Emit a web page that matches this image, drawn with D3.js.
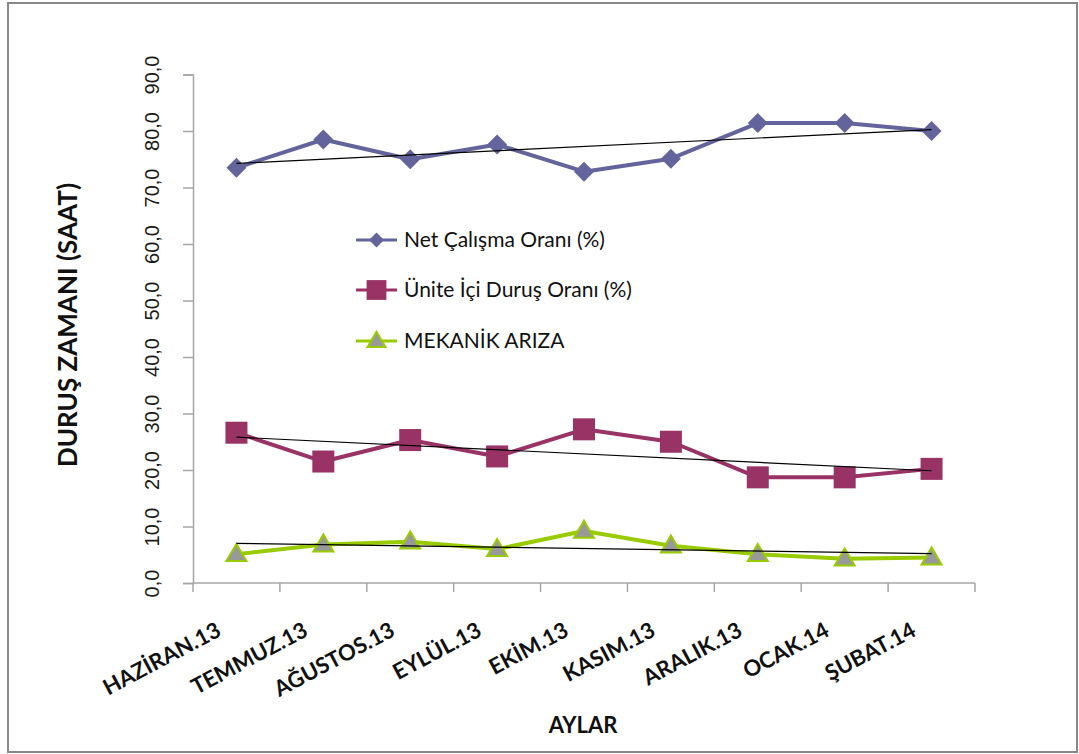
<!DOCTYPE html>
<html><head><meta charset="utf-8">
<script src="https://cdn.jsdelivr.net/npm/d3@7"></script>
<style>body{margin:0;background:#fff}svg{display:block}</style>
</head><body>
<script>
const categories = ["HAZİRAN.13","TEMMUZ.13","AĞUSTOS.13","EYLÜL.13","EKİM.13","KASIM.13","ARALIK.13","OCAK.14","ŞUBAT.14"];
const netCalisma = [73.5,78.5,75.0,77.6,72.8,75.1,81.4,81.4,80.0];
const uniteIci = [26.6,21.5,25.3,22.4,27.2,25.0,18.7,18.7,20.2];
const mekanik = [5.1,6.8,7.3,6.0,9.2,6.6,5.1,4.3,4.5];
const yTicks = [0,10,20,30,40,50,60,70,80,90];
const seriesNames = ["Net Çalışma Oranı (%)","Ünite İçi Duruş Oranı (%)","MEKANİK ARIZA"];

const W=1079,H=754;
const svg=d3.select("body").append("svg").attr("width",W).attr("height",H);
svg.append("rect").attr("x",8).attr("y",3).attr("width",1069).attr("height",749)
  .attr("fill","#fff").attr("stroke","#888").attr("stroke-width",2);

const x0=193,x1=975,yTop=74.5,yBot=583;
const xBand=d3.scaleBand().domain(categories).range([x0,x1]);
const x=d=>xBand(d)+xBand.bandwidth()/2;
const y=d3.scaleLinear().domain([0,90]).range([yBot,yTop]);

// y axis
const yAx=svg.append("g").attr("transform",`translate(${x0},0)`)
  .call(d3.axisLeft(y).tickValues(yTicks).tickSize(10).tickFormat(d=>d3.format(".1f")(d).replace(".",",")));
yAx.select(".domain").attr("stroke","#a6a6a6").attr("stroke-width",1.5);
yAx.selectAll(".tick line").attr("stroke","#a6a6a6").attr("stroke-width",1.5);
yAx.selectAll(".tick text").attr("transform","rotate(-90)").attr("x",0).attr("y",-41).attr("dy","0.35em")
  .attr("text-anchor","middle").style("font-family","'Liberation Sans',Arial,sans-serif").style("font-size","20px").attr("fill","#1a1a1a");

// x axis
const xAx=svg.append("g").attr("transform",`translate(0,${yBot})`);
xAx.append("line").attr("x1",x0).attr("x2",x1).attr("y1",0).attr("y2",0).attr("stroke","#a6a6a6").attr("stroke-width",1.5);
const bounds=categories.map(c=>xBand(c)).concat([x1]);
xAx.selectAll(".xt").data(bounds).join("line").attr("x1",d=>d).attr("x2",d=>d).attr("y1",0).attr("y2",9)
  .attr("stroke","#a6a6a6").attr("stroke-width",1.5);
xAx.selectAll(".xl").data(categories).join("text")
  .attr("transform",d=>`translate(${x(d)-14},${52}) rotate(-28)`)
  .attr("text-anchor","end")
  .style("font-family","Lato,'Open Sans',sans-serif").style("font-weight","bold").style("font-size","22px")
  .attr("fill","#111").text(d=>d);

// axis titles
svg.append("text").attr("transform",`translate(77,${325}) rotate(-90)`).attr("text-anchor","middle")
  .style("font-family","Lato,'Open Sans',sans-serif").style("font-weight","bold").style("font-size","26px")
  .attr("fill","#111").text("DURUŞ ZAMANI (SAAT)");
svg.append("text").attr("x",583).attr("y",733).attr("text-anchor","middle")
  .style("font-family","Lato,'Open Sans',sans-serif").style("font-weight","bold").style("font-size","22px")
  .attr("fill","#111").text("AYLAR");

// trend lines
function trend(vals){
  const n=vals.length, xs=d3.range(n), mx=d3.mean(xs), my=d3.mean(vals);
  const b=d3.sum(xs,i=>(i-mx)*(vals[i]-my))/d3.sum(xs,i=>(i-mx)**2);
  const a=my-b*mx;
  return [a, a+b*(n-1)];
}
const line=d3.line().x((d,i)=>x(categories[i])).y(d=>y(d));
const series=[
  {vals:netCalisma,color:"#64649C",marker:"diamond"},
  {vals:uniteIci,color:"#993366",marker:"square"},
  {vals:mekanik,color:"#99CC00",marker:"triangle"}
];
const g=svg.append("g");
series.forEach(s=>{
  g.append("path").datum(s.vals).attr("d",line).attr("fill","none").attr("stroke",s.color).attr("stroke-width",4).attr("stroke-linejoin","round");
});
function drawMarker(sel,type,color,cx,cy,scale){
  scale=scale||1;
  if(type==="diamond"){
    const r=10*scale;
    sel.append("path").attr("d",`M${cx},${cy-r}L${cx+r},${cy}L${cx},${cy+r}L${cx-r},${cy}Z`).attr("fill",color);
  } else if(type==="square"){
    const r=11*scale;
    sel.append("rect").attr("x",cx-r).attr("y",cy-r).attr("width",2*r).attr("height",2*r).attr("fill",color);
  } else {
    const w=10*scale,h=17*scale;
    sel.append("path").attr("d",`M${cx},${cy-h*0.6}L${cx+w},${cy+h*0.4}L${cx-w},${cy+h*0.4}Z`)
      .attr("fill","#999").attr("stroke",color).attr("stroke-width",2);
  }
}
series.forEach(s=>{
  s.vals.forEach((v,i)=>drawMarker(g,s.marker,s.color,x(categories[i]),y(v)));
});
series.forEach(s=>{
  const t=trend(s.vals);
  g.append("line").attr("x1",x(categories[0])).attr("x2",x(categories[categories.length-1]))
    .attr("y1",y(t[0])).attr("y2",y(t[1])).attr("stroke","#000").attr("stroke-width",1.2);
});

// legend
const legY=[240,290,341];
series.forEach((s,i)=>{
  const lg=svg.append("g");
  lg.append("line").attr("x1",356).attr("x2",397).attr("y1",legY[i]).attr("y2",legY[i]).attr("stroke",s.color).attr("stroke-width",3);
  drawMarker(lg,s.marker,s.color,376.5,legY[i],s.marker==="square"?0.9:(s.marker==="diamond"?0.75:0.9));
  lg.append("text").attr("x",404).attr("y",legY[i]).attr("dy","0.35em")
    .style("font-family","Lato,'Open Sans',sans-serif").style("font-size","21px").attr("fill","#111").text(seriesNames[i]);
});
</script>
</body></html>
